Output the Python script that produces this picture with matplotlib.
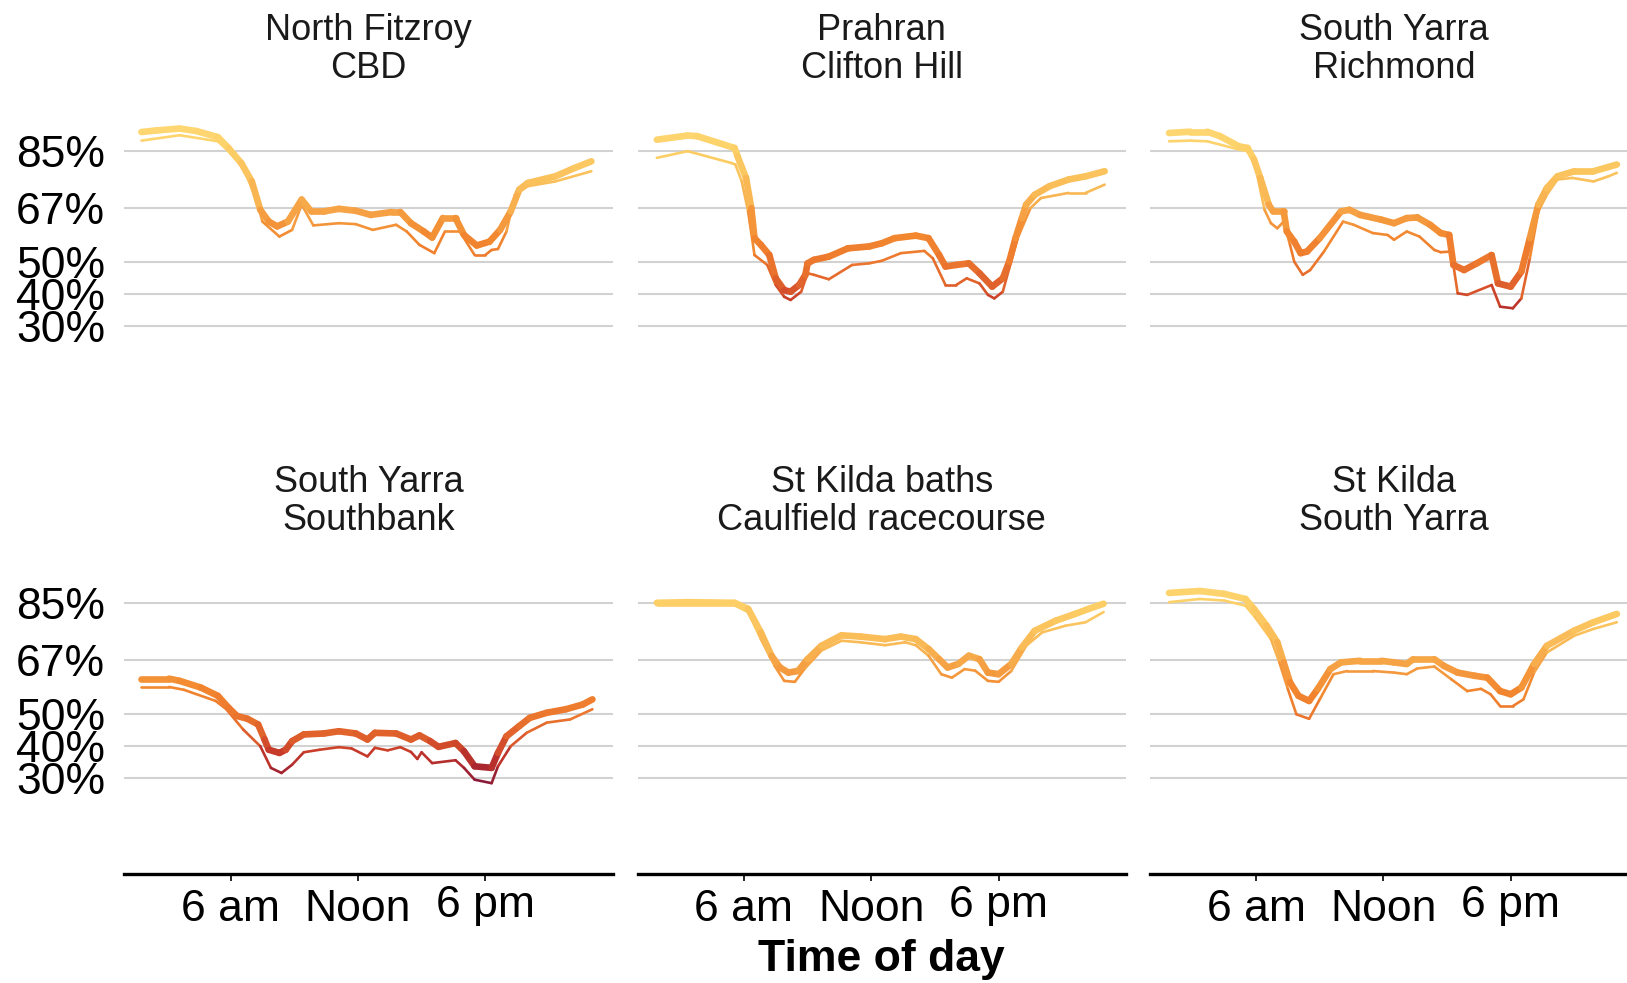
import numpy as np
import matplotlib.pyplot as plt
from matplotlib.collections import LineCollection
from matplotlib.colors import LinearSegmentedColormap, Normalize
from matplotlib.transforms import ScaledTranslation

plt.rcParams['font.family'] = ['Liberation Sans', 'DejaVu Sans']

# panel titles (origin / destination)
titles = [
    "North Fitzroy\nCBD", "Prahran\nClifton Hill", "South Yarra\nRichmond",
    "South Yarra\nSouthbank", "St Kilda baths\nCaulfield racecourse", "St Kilda\nSouth Yarra",
]

y_ticks = [30, 40, 50, 67, 85]
y_tick_labels = ["30%", "40%", "50%", "67%", "85%"]
x_ticks = [6, 12, 18]
x_tick_labels = ["6 am", "Noon", "6 pm"]

# --- North Fitzroy -> CBD
nf_thick_h = [1.8, 2.5, 3.6, 4.4, 5.4, 5.9, 6.5, 7.0, 7.4, 7.8, 8.2, 8.7, 9.35, 9.8, 10.4, 11.1, 11.9,
              12.6, 13.6, 14.0, 14.5, 15.1, 15.5, 16.0, 16.6, 17.0, 17.6, 18.2, 18.7, 19.2, 19.6, 20.0,
              21.3, 22.2, 23.0]
nf_thick_v = [90.8, 91.3, 91.9, 91.1, 89.2, 85.8, 81.1, 75.3, 66.4, 62.7, 61.2, 62.7, 69.6, 65.9, 65.9,
              66.7, 66.1, 64.8, 65.7, 65.7, 62.2, 59.6, 57.7, 63.8, 63.8, 58.5, 55.2, 56.4, 60.1, 65.9,
              72.7, 74.8, 76.9, 79.5, 81.6]
nf_thin_h = [1.8, 3.6, 5.4, 5.9, 6.6, 7.2, 7.5, 8.3, 8.9, 9.35, 9.9, 11.1, 11.9, 12.7, 13.8, 14.3, 14.9,
             15.6, 16.1, 16.8, 17.5, 18.0, 18.3, 18.6, 19.0, 19.4, 20.0, 21.3, 23.0]
nf_thin_v = [88.1, 89.8, 87.9, 84.8, 79.5, 70.1, 62.7, 58.0, 60.1, 68.0, 61.5, 62.2, 61.9, 60.1, 61.7,
             59.6, 55.4, 52.8, 59.6, 59.6, 52.2, 52.2, 53.8, 54.1, 59.6, 71.1, 73.8, 75.3, 78.5]

# --- Prahran -> Clifton Hill
pr_thick_h = [1.9, 3.35, 3.8, 5.56, 5.7, 6.1, 6.35, 6.5, 6.8, 7.2, 7.5, 7.9, 8.2, 8.6, 8.9, 9.0, 9.3,
              10.0, 10.9, 11.9, 12.5, 13.1, 14.1, 14.7, 15.2, 15.5, 16.0, 16.6, 17.1, 17.7, 18.2, 18.5,
              18.8, 19.1, 19.3, 19.7, 20.4, 21.3, 22.1, 23.0]
pr_thick_v = [88.4, 89.7, 89.5, 85.8, 83.2, 76.4, 66.9, 57.5, 55.4, 52.2, 44.9, 41.2, 40.7, 42.8, 46.0,
              49.6, 50.7, 51.7, 54.3, 54.9, 55.9, 57.5, 58.3, 57.5, 52.2, 48.6, 49.1, 49.6, 46.5, 42.3,
              44.9, 50.1, 57.5, 63.8, 68.0, 71.1, 73.8, 75.9, 76.9, 78.5]
pr_thin_h = [1.9, 3.35, 5.4, 5.6, 5.9, 6.2, 6.5, 7.1, 7.5, 7.9, 8.2, 8.7, 9.0, 9.3, 10.0, 11.1, 11.9,
             12.5, 13.4, 14.5, 14.9, 15.5, 16.0, 16.5, 17.1, 17.5, 17.8, 18.2, 18.5, 18.9, 19.5, 20.0,
             21.3, 22.1, 23.0]
pr_thin_v = [82.7, 84.8, 81.1, 80.6, 75.3, 65.9, 52.2, 49.1, 42.8, 39.1, 38.1, 40.7, 46.5, 46.0, 44.6,
             49.1, 49.6, 50.4, 52.8, 53.5, 51.2, 42.8, 42.8, 44.9, 43.3, 39.7, 38.6, 40.7, 48.0, 57.5,
             66.9, 70.1, 71.7, 71.7, 74.3]

# --- South Yarra -> Richmond
sr_thick_h = [1.9, 2.9, 3.7, 4.3, 5.2, 5.6, 5.9, 6.2, 6.6, 6.8, 7.3, 7.45, 7.8, 8.1, 8.4, 9.0, 10.0,
              10.4, 10.9, 11.9, 12.5, 13.1, 13.6, 14.2, 14.7, 15.1, 15.3, 15.8, 16.4, 17.1, 17.4, 18.0,
              18.5, 18.9, 19.3, 19.7, 20.2, 21.0, 21.9, 23.0]
sr_thick_v = [90.5, 90.9, 90.9, 89.5, 86.3, 85.8, 82.2, 76.4, 68.0, 65.9, 65.9, 59.6, 56.4, 52.8, 53.3,
              57.5, 65.9, 66.4, 64.8, 63.3, 62.2, 63.8, 64.0, 61.7, 59.1, 58.5, 49.1, 47.5, 49.6, 52.2,
              43.3, 42.3, 47.0, 57.5, 68.0, 73.2, 76.9, 78.5, 78.5, 80.6]
sr_thin_h = [1.9, 2.9, 3.7, 5.2, 5.6, 5.95, 6.4, 6.7, 7.0, 7.3, 7.6, 7.8, 8.2, 8.55, 9.2, 10.1, 10.6,
             11.5, 12.2, 12.5, 13.1, 13.7, 14.4, 14.7, 15.2, 15.5, 15.95, 17.1, 17.5, 18.1, 18.5, 18.9,
             19.3, 19.7, 20.2, 20.9, 21.9, 22.6, 23.0]
sr_thin_v = [87.9, 88.1, 87.9, 85.3, 84.8, 80.6, 66.4, 62.2, 60.6, 62.7, 55.4, 50.1, 46.0, 47.5, 53.3,
             62.7, 61.7, 59.1, 58.5, 57.0, 59.6, 58.0, 53.8, 53.1, 53.3, 40.2, 39.7, 42.8, 36.0, 35.5,
             38.6, 51.2, 65.9, 71.1, 75.9, 76.4, 75.3, 76.9, 78.0]

# --- South Yarra -> Southbank
sb_thick_h = [1.8, 3.1, 3.6, 4.6, 5.4, 5.9, 6.3, 6.8, 7.3, 7.6, 7.8, 8.3, 8.6, 8.9, 9.45, 10.4, 11.1,
              11.9, 12.45, 12.8, 13.8, 14.5, 14.9, 15.4, 15.8, 16.6, 17.0, 17.5, 18.3, 18.6, 19.0,
              19.6, 20.1, 20.9, 21.8, 22.6, 23.05]
sb_thick_v = [61.2, 61.2, 60.5, 58.4, 55.8, 52.1, 49.5, 48.6, 46.8, 42.1, 38.9, 37.9, 38.9, 41.6, 43.7,
              44.0, 44.7, 44.0, 42.1, 44.2, 44.0, 42.1, 43.4, 41.6, 39.8, 41.0, 38.4, 33.7, 33.2, 37.9,
              43.1, 46.3, 48.9, 50.5, 51.6, 53.1, 54.7]
sb_thin_h = [1.8, 3.1, 3.8, 5.3, 5.8, 6.6, 7.4, 7.9, 8.4, 8.9, 9.45, 10.2, 11.1, 11.7, 12.45, 12.8,
             13.4, 14.0, 14.5, 14.8, 15.0, 15.5, 16.6, 17.0, 17.5, 18.3, 18.6, 19.2, 19.95, 20.9,
             22.0, 23.05]
sb_thin_v = [58.6, 58.6, 57.7, 54.2, 51.6, 45.2, 40.0, 33.2, 31.6, 34.2, 38.1, 38.9, 39.7, 39.3, 36.8,
             39.5, 38.7, 39.7, 38.2, 36.0, 38.1, 34.7, 35.6, 33.2, 29.5, 28.4, 33.7, 40.0, 44.2, 47.4,
             48.4, 51.6]

# --- St Kilda baths -> Caulfield racecourse
sk_thick_h = [1.9, 3.35, 5.56, 6.2, 6.8, 7.3, 7.7, 8.1, 8.55, 9.0, 9.65, 10.6, 11.5, 12.65, 13.4,
              14.1, 14.7, 15.2, 15.6, 16.1, 16.6, 17.1, 17.5, 18.0, 18.6, 19.1, 19.7, 20.7, 21.6,
              22.25, 22.95]
sk_thick_v = [85.0, 85.2, 85.0, 83.1, 75.7, 68.4, 64.7, 63.1, 63.6, 67.3, 71.5, 74.8, 74.4, 73.6, 74.4,
              73.6, 70.5, 67.3, 64.7, 65.8, 68.4, 67.3, 63.1, 62.6, 65.8, 71.0, 76.2, 79.4, 81.5,
              83.1, 84.7]
sk_thin_h = [1.9, 5.56, 6.2, 6.8, 7.45, 7.9, 8.4, 8.85, 9.65, 10.6, 11.5, 12.65, 13.6, 14.1, 14.7,
             15.3, 15.8, 16.4, 16.9, 17.5, 18.0, 18.6, 19.3, 20.05, 21.15, 22.1, 22.95]
sk_thin_v = [84.2, 84.2, 82.1, 73.6, 65.2, 60.5, 60.2, 64.2, 70.0, 73.1, 72.6, 71.7, 72.6, 71.7, 68.4,
             62.6, 61.5, 64.2, 63.7, 60.5, 60.2, 63.6, 71.5, 75.7, 77.8, 78.9, 82.1]

# --- St Kilda -> South Yarra
ks_thick_h = [1.9, 3.35, 4.5, 5.5, 5.9, 6.5, 7.0, 7.3, 7.6, 8.0, 8.5, 8.9, 9.5, 10.0, 10.9, 11.9,
              12.5, 13.1, 13.4, 14.4, 14.85, 15.5, 16.3, 16.9, 17.5, 18.0, 18.5, 19.1, 19.7, 21.0,
              21.9, 23.0]
ks_thick_v = [88.1, 88.7, 87.8, 86.2, 83.1, 77.8, 72.6, 66.3, 60.0, 55.8, 54.2, 57.9, 64.2, 66.3, 66.8,
              66.8, 66.3, 65.8, 67.3, 67.3, 65.2, 63.1, 62.1, 61.5, 57.3, 56.3, 58.4, 65.8, 71.5, 76.3,
              78.9, 81.5]
ks_thin_h = [1.9, 3.35, 4.5, 5.5, 5.95, 6.7, 7.1, 7.5, 7.9, 8.5, 9.0, 9.65, 10.3, 11.5, 12.5, 13.1,
             13.6, 14.4, 15.2, 15.95, 16.6, 17.05, 17.5, 18.1, 18.6, 19.1, 19.7, 21.0, 21.9, 23.0]
ks_thin_v = [85.2, 86.2, 85.7, 84.1, 80.5, 73.6, 66.3, 57.9, 50.0, 48.6, 54.7, 62.6, 63.6, 63.6, 63.1,
             62.6, 64.4, 65.0, 61.0, 57.3, 58.0, 56.3, 52.6, 52.6, 54.7, 63.1, 69.4, 74.7, 76.8, 78.9]

panels = [
    (nf_thick_h, nf_thick_v, nf_thin_h, nf_thin_v),
    (pr_thick_h, pr_thick_v, pr_thin_h, pr_thin_v),
    (sr_thick_h, sr_thick_v, sr_thin_h, sr_thin_v),
    (sb_thick_h, sb_thick_v, sb_thin_h, sb_thin_v),
    (sk_thick_h, sk_thick_v, sk_thin_h, sk_thin_v),
    (ks_thick_h, ks_thick_v, ks_thin_h, ks_thin_v),
]

# colour by value: dark red (low) -> orange -> light yellow (high)
vmin, vmax = 28, 92
stops = [(28, "#86183a"), (33, "#a8262f"), (38, "#c6392a"), (43, "#df5f2b"), (50, "#ec772e"),
         (58, "#f2872f"), (65, "#f59f42"), (72, "#f9b955"), (85, "#fdd067"), (92, "#fed773")]
cmap = LinearSegmentedColormap.from_list(
    "occ", [((v - vmin) / (vmax - vmin), c) for v, c in stops])
norm = Normalize(vmin, vmax)


def colored_line(ax, h, v, lw):
    pts = np.column_stack([h, v])
    segs = np.stack([pts[:-1], pts[1:]], axis=1)
    mid = (np.array(v[:-1]) + np.array(v[1:])) / 2
    lc = LineCollection(segs, colors=cmap(norm(mid)), linewidths=lw, capstyle="round",
                        joinstyle="round", zorder=3)
    ax.add_collection(lc)


fig = plt.figure(figsize=(16.27, 9.83), dpi=100)
lefts = [0.0765, 0.392, 0.7068]
bottoms = [0.5713, 0.1112]
w, hgt = 0.300, 0.3242

for i, (th, tv, nh, nv) in enumerate(panels):
    row, col = divmod(i, 3)
    ax = fig.add_axes([lefts[col], bottoms[row], w, hgt])
    ax.set_xlim(1, 24)
    ax.set_ylim(0, 100)
    for s in ["top", "right", "left", "bottom"]:
        ax.spines[s].set_visible(False)
    for yv in y_ticks:
        ax.axhline(yv, color="#d2d2d2", lw=1.5, zorder=1)

    colored_line(ax, nh, nv, 1.9)
    colored_line(ax, th, tv, 4.8)

    ax.set_title(titles[i], fontsize=26, pad=18, linespacing=1.1, color="#1a1a1a")

    ax.set_yticks(y_ticks)
    if col == 0:
        ax.set_yticklabels(y_tick_labels, fontsize=32)
        ax.tick_params(axis="y", length=0, pad=14)
    else:
        ax.set_yticklabels([])
        ax.tick_params(axis="y", length=0)

    ax.set_xticks(x_ticks)
    if row == 1:
        ax.spines["bottom"].set_visible(True)
        ax.spines["bottom"].set_linewidth(2.4)
        ax.set_xticklabels(x_tick_labels, fontsize=32)
        ax.tick_params(axis="x", length=5, width=1.2, pad=6)
        # "6 pm" sits a little higher in the original
        lab = ax.get_xticklabels()[2]
        lab.set_transform(lab.get_transform() + ScaledTranslation(0, 3 / 72, fig.dpi_scale_trans))
    else:
        ax.set_xticklabels([])
        ax.tick_params(axis="x", length=0)

fig.text(0.542, 1 - 960 / 983, "Time of day", ha="center", va="center",
         fontsize=32, fontweight="bold")

fig.savefig("out.png", dpi=100)
